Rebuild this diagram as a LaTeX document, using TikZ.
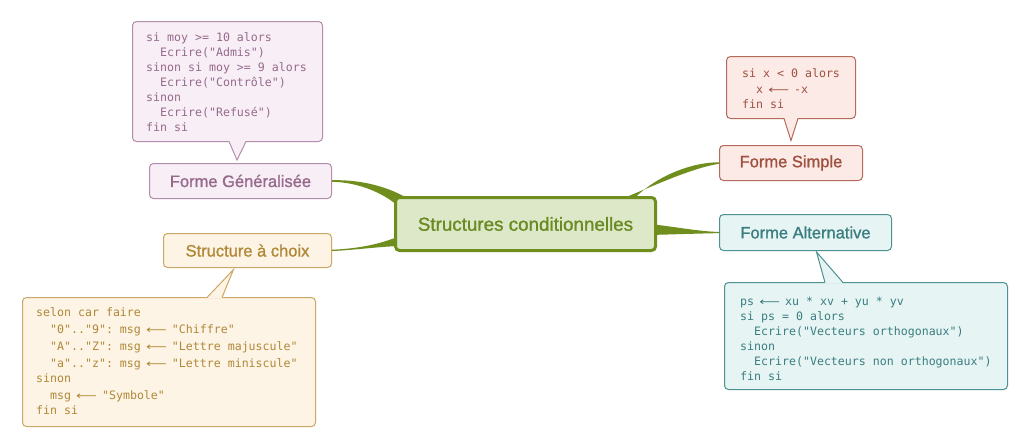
\documentclass[tikz,border=0pt]{standalone}
\usepackage{fontspec}
\setmainfont{Liberation Sans}
\setmonofont{DejaVu Sans Mono}
\newfontfamily\titlefont{Liberation Sans}[FakeBold=1.2]
\newfontfamily\arrfont{DejaVu Sans}
\usetikzlibrary{calc}
\definecolor{brgreen}{HTML}{6F8E1E}
\definecolor{cfill}{HTML}{DDE8C9}
\definecolor{cbd}{HTML}{6F8E1E}
\definecolor{ctx}{HTML}{6A8A22}
\definecolor{genfill}{HTML}{F8EEF5}
\definecolor{genbd}{HTML}{B48DAD}
\definecolor{gentx}{HTML}{966A8D}
\definecolor{chfill}{HTML}{FDF4E5}
\definecolor{chbd}{HTML}{CBA864}
\definecolor{chtx}{HTML}{B08838}
\definecolor{smfill}{HTML}{FBEAE6}
\definecolor{smbd}{HTML}{B56A5B}
\definecolor{smtx}{HTML}{A0503F}
\definecolor{alfill}{HTML}{E7F4F4}
\definecolor{albd}{HTML}{4E9191}
\definecolor{altx}{HTML}{3A7E80}
\newcommand\ind{\phantom{xx}}
\newcommand\arr{\ \makebox[17pt]{\arrfont\scalebox{1.25}[0.9]{⟵}}\ }
\begin{document}
\begin{tikzpicture}[x=1pt,y=-1pt,
  titlebox/.style={draw, rounded corners=4pt, line width=1pt, inner sep=0pt,
    font=\titlefont\fontsize{16.5}{20}\selectfont},
  codebox/.style={draw, rounded corners=4pt, line width=1pt, inner sep=0pt, anchor=north west},
  codetext/.style={anchor=north west, inner sep=0pt, align=left,
    font=\ttfamily\fontsize{11.6}{15}\selectfont},
  branch/.style={fill=brgreen, draw=none},
  ptr/.style={line width=1pt, line join=miter}
]
\useasboundingbox (0,0) rectangle (1028,447);
\fill[white] (0,0) rectangle (1028,447);

% nodes (placed first as coordinates for branches)
\path
  (525.5,224) node[draw=none, minimum width=263, minimum height=56, inner sep=0pt] (c) {}
  (791,163) node[minimum width=144, minimum height=36, inner sep=0pt] (simple) {}
  (240.5,181) node[minimum width=183, minimum height=36, inner sep=0pt] (gen) {}
  (247.5,250.5) node[minimum width=169, minimum height=35, inner sep=0pt] (choix) {}
  (805.5,232.5) node[minimum width=173, minimum height=37, inner sep=0pt] (alt) {};

% branches
\fill[branch] ($(gen.east)+(-1,-0.8)$) .. controls ($(gen.east)+(28,-1.5)$) and ($(gen.east)+(56,5)$) .. ($(c.north west)+(18,5)$)
  -- ($(c.north west)+(4,10)$) .. controls ($(gen.east)+(51,12)$) and ($(gen.east)+(26,1)$) .. ($(gen.east)+(-1,0.8)$) -- cycle;
\fill[branch] ($(simple.west)+(1,-0.7)$) .. controls ($(simple.west)+(-29,-1)$) and ($(simple.west)+(-67,15)$) .. ($(c.north east)+(-27,7)$)
  -- ($(c.north east)+(-45,7)$) .. controls ($(simple.west)+(-74,27)$) and ($(simple.west)+(-29,5)$) .. ($(simple.west)+(1,0.7)$) -- cycle;
\fill[branch] ($(c.east)+(-7,0)$) .. controls ($(alt.west)+(-39,-5)$) and ($(alt.west)+(-19,-1)$) .. ($(alt.west)+(1,-0.5)$)
  -- ($(alt.west)+(1,0.6)$) .. controls ($(alt.west)+(-19,1)$) and ($(alt.west)+(-44,1.8)$) .. ($(c.east)+(-7,11)$) -- cycle;
\fill[branch] ($(choix.east)+(-1,-0.7)$) .. controls ($(choix.east)+(28,-2)$) and ($(choix.east)+(48,-6.5)$) .. ($(c.west)+(6,12)$)
  -- ($(c.west)+(6,22)$) .. controls ($(choix.east)+(48,-4)$) and ($(choix.east)+(23,-0.5)$) .. ($(choix.east)+(-1,0.6)$) -- cycle;

% central node
\node[draw=cbd, fill=cfill, line width=3pt, rounded corners=4pt, minimum width=260, minimum height=53,
  inner sep=0pt, text=ctx, font=\titlefont\fontsize{18.8}{22}\selectfont] (central) at (c) {Structures conditionnelles};

% title nodes
\node[titlebox, draw=smbd, fill=smfill, text=smtx, minimum width=143, minimum height=35] (simpleT) at (simple) {Forme Simple};
\node[titlebox, draw=genbd, fill=genfill, text=gentx, minimum width=182, minimum height=35] (genT) at (gen) {Forme Généralisée};
\node[titlebox, draw=chbd, fill=chfill, text=chtx, minimum width=168, minimum height=34] (choixT) at (choix) {Structure à choix};
\node[titlebox, draw=albd, fill=alfill, text=altx, minimum width=172, minimum height=36] (altT) at (alt) {Forme Alternative};

% callout boxes
\node[codebox, draw=genbd, fill=genfill, minimum width=190, minimum height=120] (gbox) at (132,21) {};
\node[codebox, draw=smbd, fill=smfill, minimum width=129, minimum height=62] (sbox) at (726,56) {};
\node[codebox, draw=chbd, fill=chfill, minimum width=293, minimum height=129] (cbox) at (22,297) {};
\node[codebox, draw=albd, fill=alfill, minimum width=283, minimum height=107] (abox) at (724,282) {};

% pointers
\fill[genfill] ($(gbox.south west)+(97,-1.3)$) -- ($(genT.north)+(-3.5,-3)$) -- ($(gbox.south west)+(114,-1.3)$) -- cycle;
\draw[ptr, genbd] ($(gbox.south west)+(97,-0.5)$) -- ($(genT.north)+(-3.5,-3)$) -- ($(gbox.south west)+(114,-0.5)$);
\fill[smfill] ($(sbox.south west)+(58,-1.3)$) -- ($(simpleT.north)+(0,-4.5)$) -- ($(sbox.south west)+(72,-1.3)$) -- cycle;
\draw[ptr, smbd] ($(sbox.south west)+(58,-0.5)$) -- ($(simpleT.north)+(0,-4.5)$) -- ($(sbox.south west)+(72,-0.5)$);
\fill[chfill] ($(cbox.north west)+(185,1.3)$) -- ($(choixT.south)+(-14,1.5)$) -- ($(cbox.north west)+(200,1.3)$) -- cycle;
\draw[ptr, chbd] ($(cbox.north west)+(185,0.5)$) -- ($(choixT.south)+(-14,1.5)$) -- ($(cbox.north west)+(200,0.5)$);
\fill[alfill] ($(abox.north west)+(101,1.3)$) -- ($(altT.south)+(11,1)$) -- ($(abox.north west)+(119,1.3)$) -- cycle;
\draw[ptr, albd] ($(abox.north west)+(101,0.5)$) -- ($(altT.south)+(11,1)$) -- ($(abox.north west)+(119,0.5)$);

% code texts
\node[codetext, text=gentx] (gtext) at ($(gbox.north west)+(14,9.5)$) {\strut si moy >= 10 alors\\
\ind Ecrire("Admis")\\
sinon si moy >= 9 alors\\
\ind Ecrire("Contrôle")\\
sinon\\
\ind Ecrire("Refusé")\\
fin si};
\node[codetext, text=smtx] (stext) at ($(sbox.north west)+(16,10.5)$) {\strut si x < 0 alors\\[1pt]
\ind x\arr -x\\
fin si};
\node[codetext, text=chtx] (ctext) at ($(cbox.north west)+(14,8.5)$) {\strut selon car faire\\[2pt]
\ind"0".."9": msg\arr"Chiffre"\\[2pt]
\ind"A".."Z": msg\arr"Lettre majuscule"\\[2pt]
\ind"a".."z": msg\arr"Lettre miniscule"\\
sinon\\[2pt]
\ind msg\arr"Symbole"\\
fin si};
\node[codetext, text=altx] (atext) at ($(abox.north west)+(16,12.5)$) {\strut ps\arr xu * xv + yu * yv\\
si ps = 0 alors\\
\ind Ecrire("Vecteurs orthogonaux")\\
sinon\\
\ind Ecrire("Vecteurs non orthogonaux")\\
fin si};
\end{tikzpicture}
\end{document}
